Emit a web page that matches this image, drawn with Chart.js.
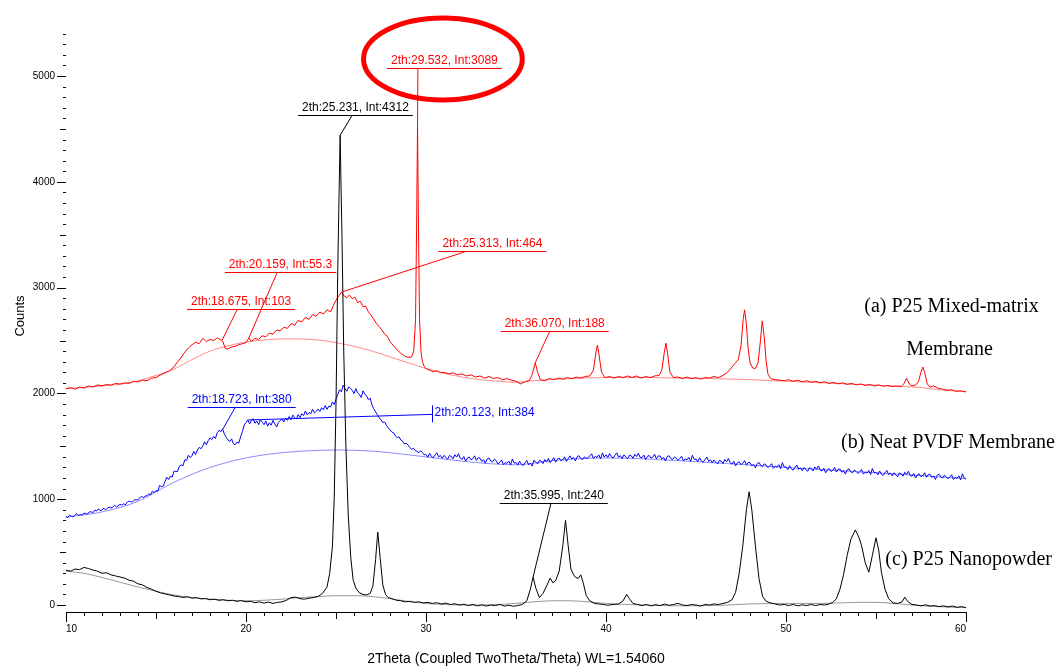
<!DOCTYPE html>
<html>
<head>
<meta charset="utf-8">
<script src="https://cdn.jsdelivr.net/npm/chart.js@4.4.1/dist/chart.umd.min.js"></script>
<style>
  html,body{margin:0;padding:0;background:#fff;}
  #wrap{width:1064px;height:671px;position:relative;}
</style>
</head>
<body>
<div id="wrap"><canvas id="xrd"></canvas></div>
<script>
// ---- measured patterns (2theta, counts) ----
const redPts = [[10,2045],[10.25,2055],[10.5,2040],[10.75,2060],[11,2050],[11.25,2070],[11.5,2062],[11.75,2080],[12,2072],[12.25,2085],[12.5,2078],[12.75,2095],[13,2088],[13.25,2100],[13.5,2095],[13.75,2115],[14,2108],[14.25,2125],[14.5,2120],[14.75,2145],[15,2150],[15.25,2175],[15.5,2195],[15.75,2215],[16,2250],[16.2,2300],[16.4,2340],[16.6,2390],[16.8,2430],[17,2460],[17.2,2485],[17.4,2470],[17.6,2520],[17.8,2490],[18,2510],[18.2,2500],[18.4,2525],[18.6,2505],[18.7,2495],[18.85,2425],[19,2420],[19.2,2440],[19.4,2445],[19.6,2460],[19.8,2470],[20,2480],[20.16,2525],[20.3,2490],[20.5,2520],[20.7,2510],[20.9,2545],[21.1,2535],[21.3,2570],[21.5,2560],[21.7,2600],[21.9,2590],[22.1,2625],[22.3,2615],[22.5,2660],[22.7,2645],[22.9,2690],[23.1,2675],[23.3,2720],[23.5,2700],[23.7,2745],[23.9,2730],[24.1,2770],[24.3,2750],[24.5,2790],[24.7,2770],[24.85,2830],[25,2880],[25.15,2920],[25.31,2958],[25.45,2920],[25.6,2905],[25.75,2930],[25.9,2895],[26.05,2910],[26.2,2860],[26.35,2870],[26.5,2820],[26.65,2825],[26.8,2770],[26.95,2740],[27.1,2700],[27.25,2660],[27.4,2630],[27.55,2600],[27.7,2560],[27.85,2540],[28,2490],[28.2,2450],[28.4,2410],[28.6,2380],[28.8,2355],[29,2340],[29.2,2345],[29.32,2400],[29.42,2700],[29.48,3600],[29.53,4540],[29.58,3600],[29.64,2700],[29.72,2400],[29.8,2300],[29.9,2255],[30,2235],[30.2,2220],[30.4,2205],[30.6,2215],[30.8,2195],[31,2200],[31.25,2185],[31.5,2195],[31.75,2175],[32,2185],[32.25,2165],[32.5,2175],[32.75,2155],[33,2165],[33.25,2145],[33.5,2160],[33.75,2140],[34,2150],[34.25,2130],[34.5,2140],[34.75,2125],[35,2115],[35.25,2090],[35.5,2110],[35.75,2125],[35.9,2180],[36.07,2290],[36.2,2200],[36.35,2130],[36.6,2120],[36.85,2140],[37.1,2130],[37.35,2145],[37.6,2135],[37.85,2150],[38.1,2140],[38.35,2155],[38.6,2145],[38.85,2160],[39.1,2165],[39.3,2220],[39.45,2400],[39.52,2455],[39.6,2380],[39.75,2200],[39.95,2150],[40.2,2160],[40.45,2145],[40.7,2160],[40.95,2150],[41.2,2165],[41.45,2150],[41.7,2165],[41.95,2145],[42.2,2160],[42.45,2150],[42.7,2165],[42.95,2170],[43.1,2220],[43.25,2400],[43.33,2475],[43.42,2380],[43.55,2200],[43.75,2150],[44,2155],[44.25,2140],[44.5,2155],[44.75,2140],[45,2150],[45.25,2135],[45.5,2150],[45.75,2145],[46,2160],[46.25,2150],[46.5,2170],[46.75,2200],[47,2250],[47.2,2290],[47.35,2320],[47.5,2450],[47.62,2700],[47.7,2790],[47.8,2650],[47.9,2420],[48,2290],[48.15,2240],[48.3,2235],[48.45,2290],[48.58,2500],[48.68,2685],[48.78,2550],[48.9,2300],[49,2180],[49.15,2140],[49.4,2130],[49.65,2125],[49.9,2120],[50.15,2130],[50.4,2115],[50.65,2125],[50.9,2110],[51.15,2120],[51.4,2105],[51.65,2115],[51.9,2100],[52.15,2110],[52.4,2095],[52.65,2105],[52.9,2090],[53.15,2100],[53.4,2085],[53.65,2095],[53.9,2080],[54.15,2090],[54.4,2075],[54.65,2085],[54.9,2070],[55.15,2080],[55.4,2068],[55.65,2075],[55.9,2065],[56.15,2070],[56.4,2065],[56.55,2090],[56.7,2145],[56.85,2090],[57,2070],[57.2,2080],[57.35,2110],[57.5,2200],[57.6,2250],[57.7,2200],[57.85,2090],[58,2060],[58.2,2070],[58.45,2050],[58.7,2040],[58.95,2030],[59.2,2035],[59.45,2020],[59.7,2025],[60,2015]];
const redBg = [[10,2045],[12,2070],[13.5,2100],[15,2170],[16,2230],[17,2320],[18,2400],[19,2450],[20,2485],[21,2505],[22,2515],[23,2515],[24,2505],[25,2480],[26,2445],[27,2400],[28,2345],[29,2290],[30,2235],[31,2190],[32,2155],[33,2130],[34,2115],[35,2105],[36,2120],[38,2140],[40,2150],[42,2150],[44,2145],[46,2140],[48,2130],[50,2115],[52,2100],[54,2085],[56,2070],[57.5,2055],[58.5,2035],[60,2015]];

const bluePts = [
[10,837],[10.1,827],[10.2,849],[10.3,837],[10.4,834],[10.5,850],[10.6,864],[10.7,847],[10.8,857],[10.9,847],
[11,870],[11.1,863],[11.2,859],[11.3,880],[11.4,881],[11.5,873],[11.6,896],[11.7,889],[11.8,909],[11.9,893],
[12,898],[12.1,915],[12.2,898],[12.3,916],[12.4,925],[12.5,916],[12.6,925],[12.7,942],[12.8,927],[12.9,938],
[13,952],[13.1,943],[13.2,957],[13.3,946],[13.4,972],[13.5,983],[13.6,975],[13.7,976],[13.8,995],[13.9,994],
[14,996],[14.1,1012],[14.2,1029],[14.3,1014],[14.4,1031],[14.5,1033],[14.6,1052],[14.7,1040],[14.8,1076],[14.9,1062],
[15,1082],[15.1,1075],[15.2,1130],[15.3,1118],[15.4,1124],[15.5,1167],[15.6,1208],[15.7,1186],[15.8,1218],[15.9,1209],
[16,1265],[16.1,1262],[16.2,1262],[16.3,1313],[16.4,1324],[16.5,1317],[16.6,1372],[16.7,1367],[16.8,1416],[16.9,1393],
[17,1412],[17.1,1452],[17.2,1423],[17.3,1466],[17.4,1490],[17.5,1478],[17.6,1502],[17.7,1543],[17.8,1514],[17.9,1554],
[18,1580],[18.1,1564],[18.2,1593],[18.3,1574],[18.4,1628],[18.5,1652],[18.6,1638],[18.7,1665],[18.8,1615],[18.9,1585],
[19,1560],[19.1,1545],[19.2,1570],[19.3,1525],[19.4,1515],[19.5,1540],[19.6,1530],[19.7,1590],[19.8,1640],[19.9,1700],
[20,1725],[20.1,1750],[20.2,1712],[20.3,1745],[20.4,1760],[20.5,1718],[20.6,1740],[20.7,1705],[20.8,1752],[20.9,1728],
[21,1705],[21.1,1738],[21.2,1690],[21.3,1722],[21.4,1700],[21.5,1745],[21.6,1712],[21.7,1683],[21.8,1725],[21.9,1742],
[22,1758],[22.1,1730],[22.2,1768],[22.3,1745],[22.4,1782],[22.5,1752],[22.6,1795],[22.7,1770],[22.8,1760],[22.9,1800],
[23,1772],[23.1,1808],[23.2,1790],[23.3,1835],[23.4,1798],[23.5,1820],[23.6,1808],[23.7,1850],[23.8,1815],[23.9,1830],
[24,1852],[24.1,1828],[24.2,1865],[24.3,1845],[24.4,1885],[24.5,1850],[24.6,1880],[24.7,1872],[24.8,1918],[24.9,1895],
[25,1945],[25.1,1990],[25.2,2035],[25.3,2015],[25.4,2078],[25.5,2045],[25.6,2020],[25.7,2062],[25.8,2048],[25.9,2030],
[26,1998],[26.1,2045],[26.2,2005],[26.3,1990],[26.4,1962],[26.5,2025],[26.6,1995],[26.7,1975],[26.8,1940],[26.9,1955],
[27,1890],[27.1,1855],[27.2,1825],[27.3,1798],[27.4,1770],[27.5,1750],[27.6,1725],[27.7,1730],[27.8,1700],[27.9,1675],
[28,1655],[28.1,1635],[28.2,1628],[28.3,1598],[28.4,1582],[28.5,1590],[28.6,1560],[28.7,1548],[28.8,1522],[28.9,1530],
[29,1512],[29.1,1488],[29.2,1472],[29.3,1482],[29.4,1460],[29.5,1452],[29.6,1438],[29.7,1458],[29.8,1442],[29.9,1420],
[30,1422],[30.1,1397],[30.2,1434],[30.3,1404],[30.4,1392],[30.5,1417],[30.6,1440],[30.7,1400],[30.8,1414],[30.9,1387],
[31,1415],[31.1,1395],[31.2,1378],[31.3,1412],[31.4,1406],[31.5,1382],[31.6,1420],[31.7,1398],[31.8,1430],[31.9,1390],
[32,1377],[32.1,1403],[32.2,1360],[32.3,1389],[32.4,1399],[32.5,1373],[32.6,1383],[32.7,1410],[32.8,1367],[32.9,1393],
[33,1388],[33.1,1358],[33.2,1373],[33.3,1340],[33.4,1380],[33.5,1390],[33.6,1362],[33.7,1353],[33.8,1378],[33.9,1365],
[34,1333],[34.1,1351],[34.2,1371],[34.3,1327],[34.4,1347],[34.5,1337],[34.6,1361],[34.7,1323],[34.8,1380],[34.9,1340],
[35,1348],[35.1,1323],[35.2,1360],[35.3,1330],[35.4,1318],[35.5,1343],[35.6,1366],[35.7,1326],[35.8,1340],[35.9,1313],
[36,1370],[36.1,1350],[36.2,1333],[36.3,1367],[36.4,1361],[36.5,1337],[36.6,1375],[36.7,1353],[36.8,1385],[36.9,1345],
[37,1367],[37.1,1393],[37.2,1350],[37.3,1379],[37.4,1389],[37.5,1363],[37.6,1373],[37.7,1400],[37.8,1357],[37.9,1383],
[38,1410],[38.1,1380],[38.2,1395],[38.3,1362],[38.4,1402],[38.5,1412],[38.6,1384],[38.7,1375],[38.8,1400],[38.9,1387],
[39,1391],[39.1,1409],[39.2,1429],[39.3,1385],[39.4,1405],[39.5,1395],[39.6,1419],[39.7,1381],[39.8,1438],[39.9,1398],
[40,1420],[40.1,1395],[40.2,1432],[40.3,1402],[40.4,1390],[40.5,1415],[40.6,1438],[40.7,1398],[40.8,1412],[40.9,1385],
[41,1420],[41.1,1400],[41.2,1383],[41.3,1417],[41.4,1411],[41.5,1387],[41.6,1425],[41.7,1403],[41.8,1435],[41.9,1395],
[42,1392],[42.1,1418],[42.2,1375],[42.3,1404],[42.4,1414],[42.5,1388],[42.6,1398],[42.7,1425],[42.8,1382],[42.9,1408],
[43,1410],[43.1,1380],[43.2,1395],[43.3,1362],[43.4,1402],[43.5,1412],[43.6,1384],[43.7,1375],[43.8,1400],[43.9,1387],
[44,1368],[44.1,1386],[44.2,1406],[44.3,1362],[44.4,1382],[44.5,1372],[44.6,1396],[44.7,1358],[44.8,1415],[44.9,1375],
[45,1380],[45.1,1355],[45.2,1392],[45.3,1362],[45.4,1350],[45.5,1375],[45.6,1398],[45.7,1358],[45.8,1372],[45.9,1345],
[46,1370],[46.1,1350],[46.2,1333],[46.3,1367],[46.4,1361],[46.5,1337],[46.6,1375],[46.7,1353],[46.8,1385],[46.9,1345],
[47,1332],[47.1,1358],[47.2,1315],[47.3,1344],[47.4,1354],[47.5,1328],[47.6,1338],[47.7,1365],[47.8,1322],[47.9,1348],
[48,1345],[48.1,1315],[48.2,1330],[48.3,1297],[48.4,1337],[48.5,1347],[48.6,1319],[48.7,1310],[48.8,1335],[48.9,1322],
[49,1298],[49.1,1316],[49.2,1336],[49.3,1292],[49.4,1312],[49.5,1302],[49.6,1326],[49.7,1288],[49.8,1345],[49.9,1305],
[50,1305],[50.1,1280],[50.2,1317],[50.3,1287],[50.4,1275],[50.5,1300],[50.6,1323],[50.7,1283],[50.8,1297],[50.9,1270],
[51,1300],[51.1,1280],[51.2,1263],[51.3,1297],[51.4,1291],[51.5,1267],[51.6,1305],[51.7,1283],[51.8,1315],[51.9,1275],
[52,1267],[52.1,1293],[52.2,1250],[52.3,1279],[52.4,1289],[52.5,1263],[52.6,1273],[52.7,1300],[52.8,1257],[52.9,1283],
[53,1285],[53.1,1255],[53.2,1270],[53.3,1237],[53.4,1277],[53.5,1287],[53.6,1259],[53.7,1250],[53.8,1275],[53.9,1262],
[54,1243],[54.1,1261],[54.2,1281],[54.3,1237],[54.4,1257],[54.5,1247],[54.6,1271],[54.7,1233],[54.8,1290],[54.9,1250],
[55,1255],[55.1,1230],[55.2,1267],[55.3,1237],[55.4,1225],[55.5,1250],[55.6,1273],[55.7,1233],[55.8,1247],[55.9,1220],
[56,1250],[56.1,1230],[56.2,1213],[56.3,1247],[56.4,1241],[56.5,1217],[56.6,1255],[56.7,1233],[56.8,1265],[56.9,1225],
[57,1217],[57.1,1243],[57.2,1200],[57.3,1229],[57.4,1239],[57.5,1213],[57.6,1223],[57.7,1250],[57.8,1207],[57.9,1233],
[58,1235],[58.1,1205],[58.2,1220],[58.3,1187],[58.4,1227],[58.5,1237],[58.6,1209],[58.7,1200],[58.8,1225],[58.9,1212],
[59,1193],[59.1,1211],[59.2,1231],[59.3,1187],[59.4,1207],[59.5,1197],[59.6,1221],[59.7,1183],[59.8,1240],[59.9,1200],
[60,1190]];
const blueBg = [[10,830],[12,880],[14,980],[15,1070],[16,1160],[18,1300],[20,1390],[22,1440],[24,1462],[25,1465],[27,1455],[29,1420],[30,1400],[32,1360],[35,1325],[37,1365],[40,1390],[45,1355],[50,1300],[55,1250],[60,1195]];

const blackPts = [[10,330],[10.25,320],[10.5,340],[10.75,335],[11,355],[11.25,345],[11.5,330],[11.75,320],[12,300],[12.25,305],[12.5,285],[12.75,275],[13,265],[13.25,255],[13.5,235],[13.75,225],[14,200],[14.25,190],[14.5,165],[14.75,150],[15,130],[15.25,115],[15.5,105],[15.75,95],[16,85],[16.25,80],[16.5,72],[16.75,78],[17,65],[17.25,70],[17.5,58],[17.75,62],[18,50],[18.25,55],[18.5,45],[18.75,50],[19,40],[19.25,45],[19.5,35],[19.75,42],[20,30],[20.25,35],[20.5,22],[20.75,30],[21,18],[21.25,28],[21.5,15],[21.75,25],[22,30],[22.25,45],[22.5,70],[22.75,75],[23,60],[23.25,55],[23.5,65],[23.75,70],[24,80],[24.25,110],[24.5,170],[24.65,300],[24.8,550],[24.9,1000],[25,1900],[25.1,3200],[25.23,4440],[25.33,3500],[25.43,2400],[25.55,1500],[25.68,850],[25.82,450],[25.95,240],[26.1,160],[26.3,115],[26.5,100],[26.7,95],[26.9,110],[27.05,180],[27.2,430],[27.32,690],[27.45,450],[27.6,190],[27.75,100],[27.9,70],[28.1,60],[28.35,45],[28.6,40],[28.85,30],[29.1,35],[29.35,25],[29.6,30],[29.85,20],[30.1,25],[30.35,15],[30.6,22],[30.85,10],[31.1,18],[31.35,5],[31.6,12],[31.85,0],[32.1,8],[32.35,-5],[32.6,5],[32.85,-8],[33.1,2],[33.35,-10],[33.6,0],[33.85,-5],[34.1,5],[34.35,-10],[34.6,-2],[34.85,-12],[35.1,-5],[35.35,5],[35.6,40],[35.8,150],[35.95,265],[36.1,160],[36.3,70],[36.5,110],[36.7,180],[36.9,255],[37.05,210],[37.2,230],[37.4,320],[37.6,560],[37.75,800],[37.9,560],[38.05,340],[38.25,270],[38.45,250],[38.6,285],[38.75,200],[38.9,90],[39.1,40],[39.35,15],[39.6,10],[39.85,5],[40.1,-2],[40.4,5],[40.7,10],[40.95,40],[41.15,100],[41.3,60],[41.5,15],[41.75,5],[42,-5],[42.25,5],[42.5,-8],[42.75,3],[43,-5],[43.25,8],[43.5,-3],[43.75,5],[44,15],[44.25,0],[44.5,-5],[44.75,5],[45,0],[45.25,-10],[45.5,5],[45.75,0],[46,10],[46.25,5],[46.5,15],[46.75,25],[47,50],[47.2,120],[47.4,300],[47.6,560],[47.8,900],[47.95,1070],[48.1,900],[48.3,560],[48.5,250],[48.7,80],[48.9,35],[49.15,20],[49.4,10],[49.65,0],[49.9,5],[50.15,-5],[50.4,5],[50.65,-8],[50.9,2],[51.15,-5],[51.4,5],[51.65,-5],[51.9,5],[52.15,0],[52.4,10],[52.6,25],[52.8,60],[53,150],[53.2,290],[53.4,470],[53.6,620],[53.85,710],[54.05,640],[54.2,560],[54.4,400],[54.6,310],[54.8,470],[55,635],[55.15,520],[55.3,310],[55.5,150],[55.7,60],[55.95,20],[56.2,15],[56.45,30],[56.6,75],[56.75,35],[57,5],[57.25,0],[57.5,-8],[57.75,2],[58,-10],[58.25,-5],[58.5,-15],[58.75,-8],[59,-18],[59.25,-10],[59.5,-22],[59.75,-15],[60,-25]];
const blackBg = [[10,320],[11,300],[12,260],[13,215],[14,170],[15,130],[16,95],[17,70],[18,55],[19,45],[20,40],[21,45],[22,55],[23,70],[24,80],[25,88],[26,88],[27,80],[28,60],[29,35],[30,15],[31,5],[32,0],[33,0],[34,5],[35,15],[36,30],[37,40],[38,40],[39,30],[40,15],[42,0],[44,-8],[46,-5],[48,10],[50,15],[52,15],[54,25],[55,25],[56,15],[57,0],[58,-12],[60,-25]];

// y axis labelled ticks
const yTicks = [0, 1000, 2000, 3000, 4000, 5000];

// peak tags: text, colour, underline centre (x, counts), leader start x, peak (x, counts)
const tagText  = ['2th:29.532, Int:3089','2th:25.231, Int:4312','2th:25.313, Int:464','2th:20.159, Int:55.3','2th:18.675, Int:103','2th:36.070, Int:188','2th:18.723, Int:380','2th:35.995, Int:240'];
const tagColor = ['#ff0000','#000000','#ff0000','#ff0000','#ff0000','#ff0000','#0000ff','#000000'];
const tagUX    = [31.02, 26.08, 33.69, 21.92, 19.73, 37.15, 19.76, 37.10];
const tagUY    = [5076, 4631, 3349, 3147, 2798, 2590, 1874, 964];
const tagLX    = [29.55, 25.89, 32.21, 21.73, 19.51, 36.87, 19.40, 36.94];
const tagPX    = [29.53, 25.23, 25.31, 20.16, 18.68, 36.07, 18.72, 35.95];
const tagPY    = [4540, 4440, 2958, 2525, 2505, 2290, 1665, 265];

// flat marker for 2th:20.123 on the PVDF pattern
const flatText = '2th:20.123, Int:384';
const flatFrom = [20.12, 1749];
const flatTo   = [30.31, 1802];

// highlight ring around the 29.532 tag (centre x, centre counts, radius in x units, radius in counts)
const ring = [30.94, 5161, 4.41, 388];

// pattern names at the right
const sideText = ['(a) P25 Mixed-matrix', 'Membrane', '(b) Neat PVDF Membrane', '(c) P25 Nanopowder'];
const sideX    = [54.35, 56.68, 53.06, 55.52];
const sideY    = [2820, 2410, 1538, 425];

const SANS = '"Liberation Sans", Arial, sans-serif';
const SERIF = '"Liberation Serif", "DejaVu Serif", serif';

const pts = a => a.map(p => ({x: p[0], y: p[1]}));

const xrdDecor = {
  id: 'xrdDecor',
  afterDatasetsDraw(chart){
    const {ctx, chartArea: a, scales: {x, y}} = chart;
    ctx.save();
    ctx.strokeStyle = '#000';
    ctx.lineWidth = 1;
    ctx.beginPath();
    for (let v = 10; v <= 60; v++) {
      const px = Math.round(x.getPixelForValue(v)) + .5;
      const len = v % 10 === 0 ? 10 : v % 5 === 0 ? 7 : 4;
      ctx.moveTo(px, a.bottom); ctx.lineTo(px, a.bottom + len);
    }
    for (let v = 0; v <= 5400; v += 100) {
      const py = Math.round(y.getPixelForValue(v)) + .5;
      const len = v % 1000 === 0 ? 9 : v % 500 === 0 ? 6 : 3;
      ctx.moveTo(a.left - len, py); ctx.lineTo(a.left, py);
    }
    ctx.stroke();

    // axis titles
    ctx.fillStyle = '#000';
    ctx.font = '14px ' + SANS;
    ctx.textAlign = 'center';
    ctx.textBaseline = 'middle';
    ctx.fillText('2Theta (Coupled TwoTheta/Theta) WL=1.54060', (a.left + a.right) / 2, 659);
    ctx.save();
    ctx.translate(20, 316);
    ctx.rotate(-Math.PI / 2);
    ctx.font = '13px ' + SANS;
    ctx.fillText('Counts', 0, 0);
    ctx.restore();

    // peak tags
    ctx.font = '12px ' + SANS;
    tagText.forEach((t, i) => {
      const ux = x.getPixelForValue(tagUX[i]);
      const uy = Math.round(y.getPixelForValue(tagUY[i])) + .5;
      const w = ctx.measureText(t).width + 8;
      ctx.fillStyle = tagColor[i];
      ctx.strokeStyle = tagColor[i];
      ctx.textAlign = 'center';
      ctx.textBaseline = 'alphabetic';
      ctx.fillText(t, ux, uy - 5);
      ctx.beginPath();
      ctx.moveTo(ux - w / 2, uy); ctx.lineTo(ux + w / 2, uy);
      ctx.moveTo(x.getPixelForValue(tagLX[i]), uy);
      ctx.lineTo(x.getPixelForValue(tagPX[i]), y.getPixelForValue(tagPY[i]));
      ctx.stroke();
    });

    // flat marker
    const fx0 = x.getPixelForValue(flatFrom[0]), fy0 = y.getPixelForValue(flatFrom[1]);
    const fx1 = Math.round(x.getPixelForValue(flatTo[0])) + .5, fy1 = y.getPixelForValue(flatTo[1]);
    ctx.strokeStyle = '#0000ff';
    ctx.fillStyle = '#0000ff';
    ctx.beginPath();
    ctx.moveTo(fx0, fy0); ctx.lineTo(fx1, fy1);
    ctx.moveTo(fx1, fy1 - 9); ctx.lineTo(fx1, fy1 + 8);
    ctx.stroke();
    ctx.textAlign = 'left';
    ctx.textBaseline = 'middle';
    ctx.fillText(flatText, fx1 + 2, fy1 - 2);

    // ring
    ctx.strokeStyle = '#ff0000';
    ctx.lineWidth = 5;
    ctx.beginPath();
    const cx = x.getPixelForValue(ring[0]), cy = y.getPixelForValue(ring[1]);
    const rx = x.getPixelForValue(ring[0] + ring[2]) - cx;
    const ry = cy - y.getPixelForValue(ring[1] + ring[3]);
    ctx.ellipse(cx, cy, rx, ry, 0, 0, Math.PI * 2);
    ctx.stroke();

    // pattern names
    ctx.fillStyle = '#000';
    ctx.font = '20px ' + SERIF;
    ctx.textAlign = 'left';
    ctx.textBaseline = 'middle';
    sideText.forEach((t, i) => ctx.fillText(t, x.getPixelForValue(sideX[i]), y.getPixelForValue(sideY[i])));
    ctx.restore();
  }
};

new Chart(document.getElementById('xrd'), {
  type: 'line',
  data: {
    datasets: [
      {data: pts(blackPts), borderColor: '#000000', borderWidth: 1},
      {data: pts(redPts), borderColor: '#ff0000', borderWidth: 1},
      {data: pts(bluePts), borderColor: '#0000ff', borderWidth: 1},
      {data: pts(redBg), borderColor: '#ff8c8c', borderWidth: 1, cubicInterpolationMode: 'monotone'},
      {data: pts(blueBg), borderColor: '#8c8cff', borderWidth: 1, cubicInterpolationMode: 'monotone'},
      {data: pts(blackBg), borderColor: '#999999', borderWidth: 1, cubicInterpolationMode: 'monotone'}
    ]
  },
  options: {
    responsive: true,
    maintainAspectRatio: false,
    animation: false,
    events: [],
    parsing: false,
    elements: {point: {radius: 0}, line: {tension: 0}},
    layout: {padding: {left: 0, right: 98, top: 30, bottom: 0}},
    plugins: {legend: {display: false}, tooltip: {enabled: false}},
    scales: {
      x: {
        type: 'linear', min: 10, max: 60,
        grid: {display: false, drawTicks: false},
        border: {display: true, color: '#000', width: 1},
        ticks: {stepSize: 10, align: 'inner', padding: 11, color: '#000', font: {size: 10, family: SANS}, maxRotation: 0},
        afterFit: s => { s.height = 59; }
      },
      y: {
        type: 'linear', min: -66, max: 5435,
        grid: {display: false, drawTicks: false},
        border: {display: false},
        afterBuildTicks: s => { s.ticks = yTicks.map(v => ({value: v})); },
        ticks: {padding: 11, color: '#000', font: {size: 10, family: SANS}, callback: v => String(v)},
        afterFit: s => { s.width = 66; }
      }
    }
  },
  plugins: [xrdDecor]
});
</script>
</body>
</html>
